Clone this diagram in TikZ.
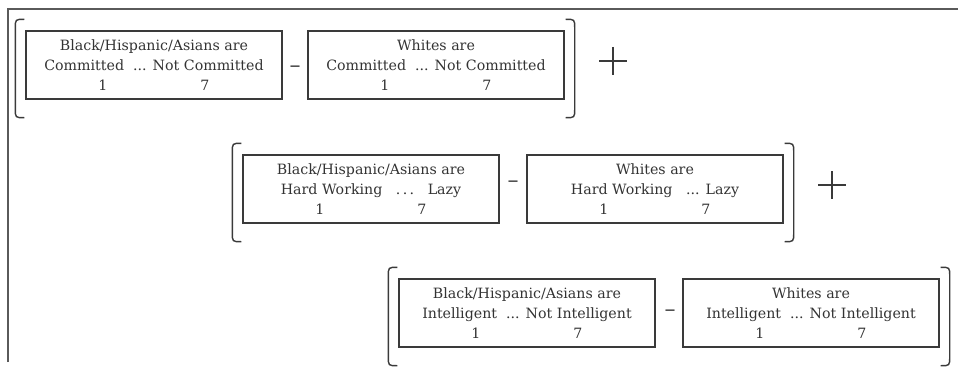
\documentclass[tikz,border=0pt]{standalone}
\usepackage{fontspec}
\setmainfont{DejaVu Serif}
\usepackage{xcolor}
\usepackage{tikz}
\usetikzlibrary{calc}
\definecolor{LineGray}{HTML}{3A3A3A}
\definecolor{FrameGray}{HTML}{5A5A5A}
\definecolor{TextGray}{HTML}{333333}
\newcommand{\scalerow}{\makebox[112pt]{\makebox[10pt]{1}\hfill\makebox[10pt]{7}}}

\begin{document}
\begin{tikzpicture}[x=1pt,y=-1pt,
  rate/.style={draw=LineGray,line width=1.4pt,minimum width=256pt,minimum height=68pt,
    inner sep=0pt,align=center,text=TextGray,font=\fontsize{14.2}{20}\selectfont},
  minus/.style={text=LineGray,font=\fontsize{22}{22}\selectfont},
  paren/.style={LineGray,line width=1.4pt},
  cross/.style={LineGray,line width=1.2pt}
]
\useasboundingbox (0,0) rectangle (958,369);
% frame
\draw[FrameGray,line width=1.5pt] (8,362) -- (8,9) -- (958,9);

% committed
\node[rate] (b1) at (154,65) {Black/Hispanic/Asians are\\Committed\ \ ... Not Committed\\\scalerow};
\node[rate] (b2) at (436,65) {Whites are\\Committed\ \ ... Not Committed\\\scalerow};
\node[minus] (m1) at (295,69) {--};
% hard working
\node[rate] (b3) at (371,189) {Black/Hispanic/Asians are\\Hard Working\ \ \ .\,.\,.\ \ \ Lazy\\\scalerow};
\node[rate] (b4) at (655,189) {Whites are\\Hard Working\ \ \ ... Lazy\\\scalerow};
\node[minus] (m2) at (513,184) {--};
% intelligent
\node[rate] (b5) at (527,313) {Black/Hispanic/Asians are\\Intelligent\ \ ... Not Intelligent\\\scalerow};
\node[rate] (b6) at (811,313) {Whites are\\Intelligent\ \ ... Not Intelligent\\\scalerow};
\node[minus] (m3) at (670,313) {--};

% brackets
\foreach \l/\r in {b1/b2,b3/b4,b5/b6}{
  \draw[paren] ($(\l.north west)+(-1,-11)$) .. controls ($(\l.north west)+(-10,-11)$) .. ($(\l.north west)+(-10,-2)$)
    -- ($(\l.south west)+(-10,9)$) .. controls ($(\l.south west)+(-10,18)$) .. ($(\l.south west)+(-1,18)$);
  \draw[paren] ($(\r.north east)+(1,-11)$) .. controls ($(\r.north east)+(10,-11)$) .. ($(\r.north east)+(10,-2)$)
    -- ($(\r.south east)+(10,9)$) .. controls ($(\r.south east)+(10,18)$) .. ($(\r.south east)+(1,18)$);
}

% plus signs
\coordinate (p1) at (613,61);
\coordinate (p2) at (832,185);
\foreach \p in {p1,p2}
  \draw[cross] ($(\p)+(-14,0)$) -- ($(\p)+(14,0)$) ($(\p)+(0,-14)$) -- ($(\p)+(0,14)$);
\end{tikzpicture}
\end{document}
